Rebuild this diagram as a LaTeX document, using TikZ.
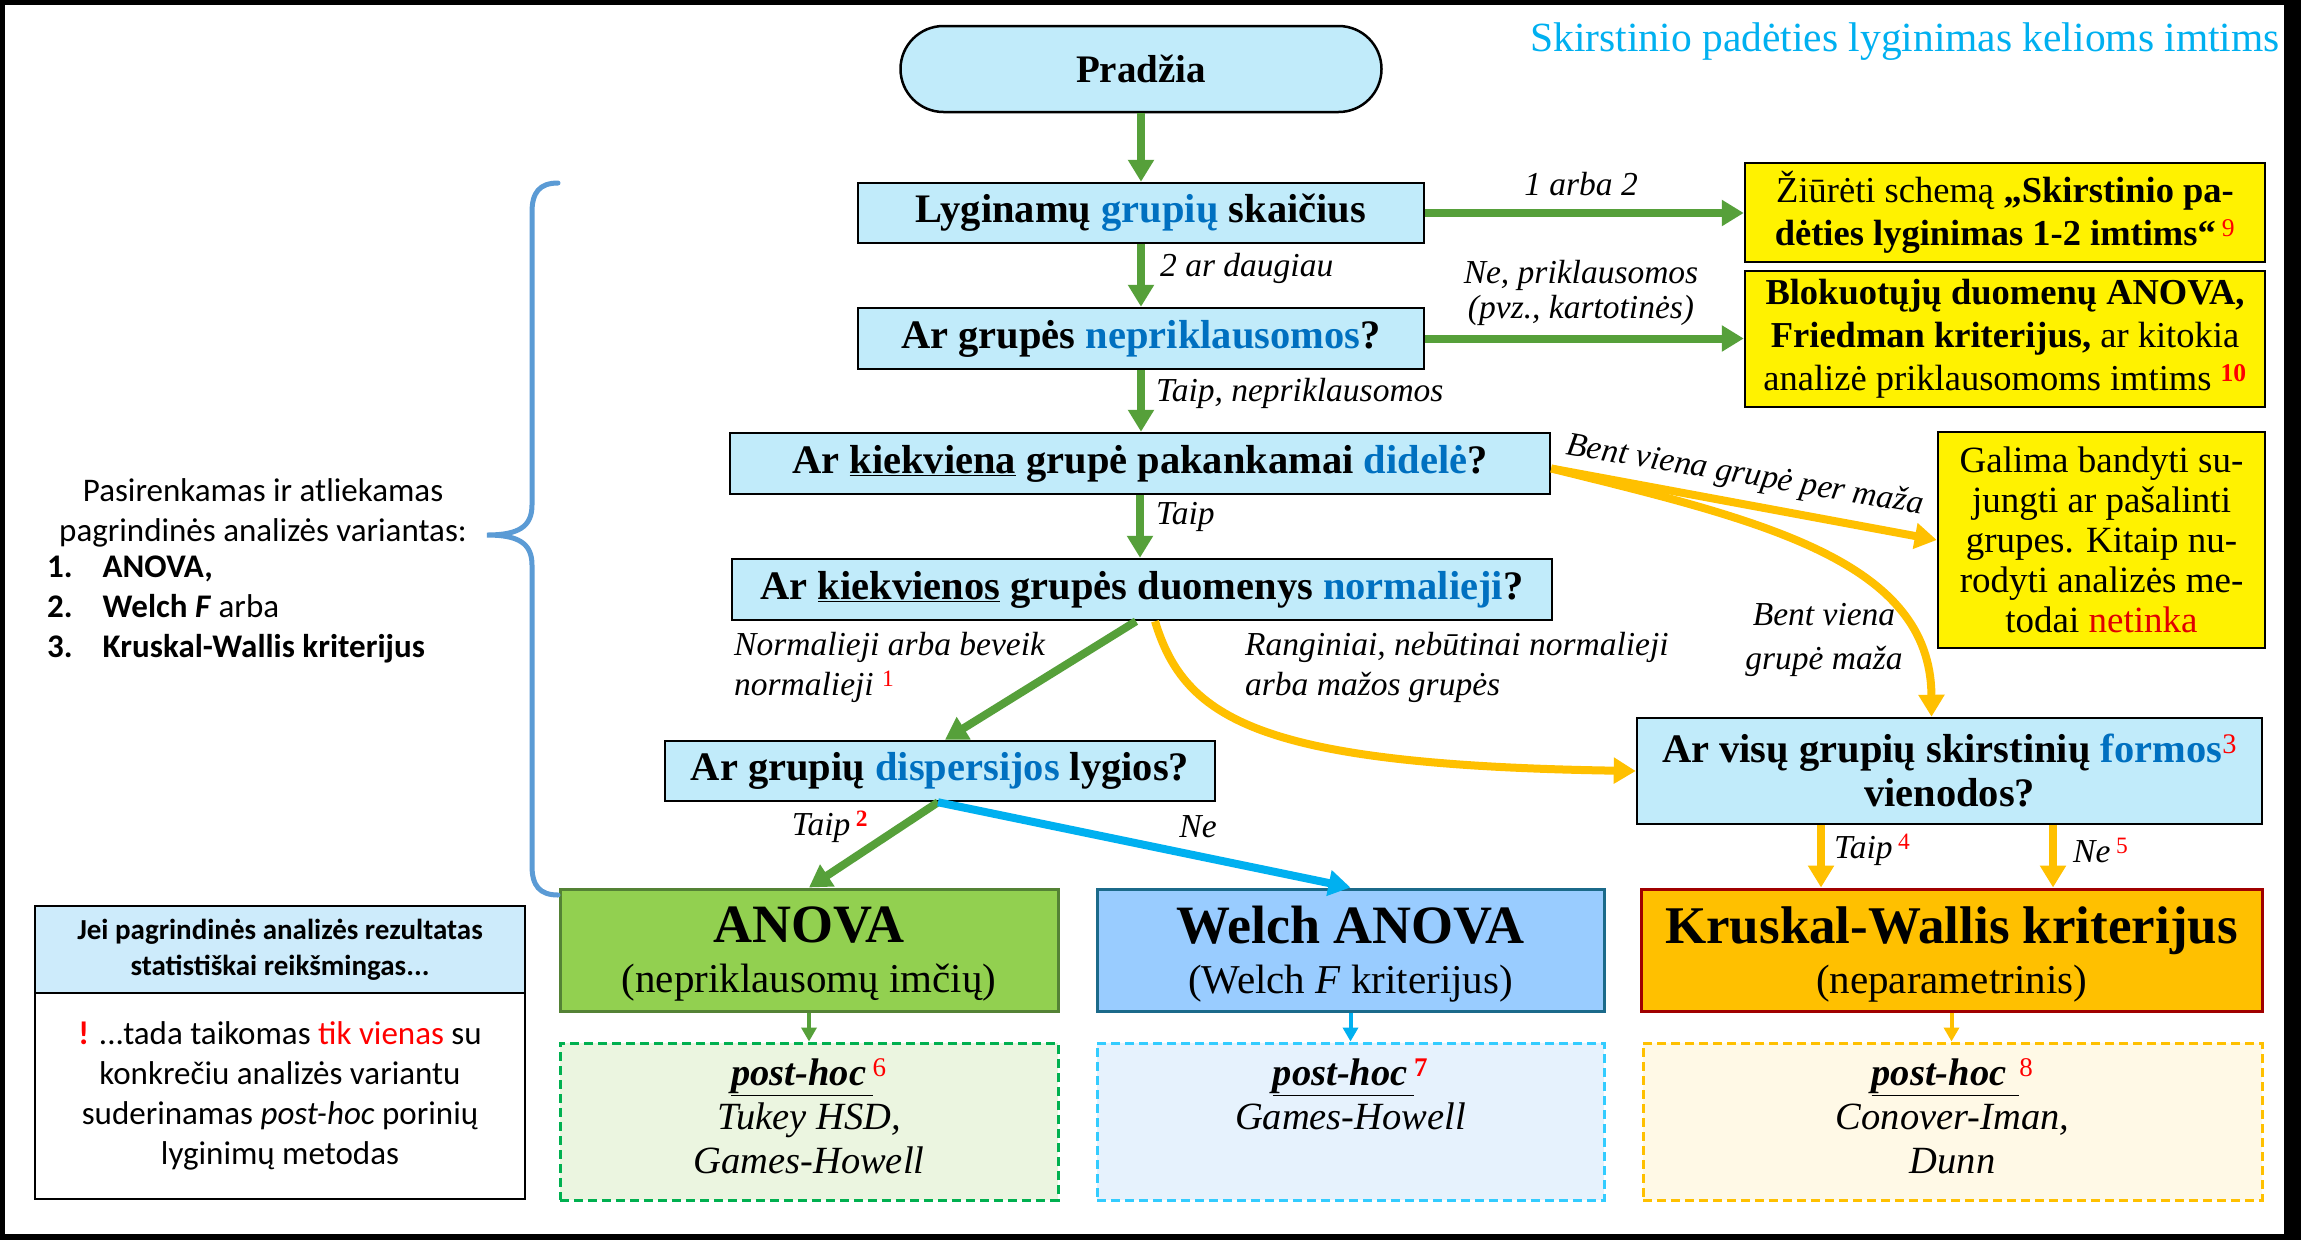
\documentclass[tikz,border=0pt]{standalone}
\usepackage{fontspec}
\setmainfont{Liberation Serif}
\newfontfamily\carl{Carlito}
\usetikzlibrary{arrows.meta,calc}
\definecolor{qfill}{HTML}{C1EBFA}
\definecolor{tblue}{HTML}{0070C0}
\definecolor{ttl}{HTML}{00B0F0}
\definecolor{agreen}{HTML}{56A03A}
\definecolor{ayellow}{HTML}{FFC000}
\definecolor{acyan}{HTML}{00B0F0}
\definecolor{supred}{HTML}{FF0000}
\definecolor{netred}{HTML}{E00000}
\definecolor{anovafill}{HTML}{92D050}
\definecolor{anovadraw}{HTML}{548235}
\definecolor{welchfill}{HTML}{99CCFF}
\definecolor{welchdraw}{HTML}{1B6A8A}
\definecolor{kwfill}{HTML}{FFC000}
\definecolor{kwdraw}{HTML}{A00000}
\definecolor{phgfill}{HTML}{EBF5E0}
\definecolor{phgdraw}{HTML}{00B050}
\definecolor{phbfill}{HTML}{E6F2FD}
\definecolor{phbdraw}{HTML}{33CCFF}
\definecolor{phyfill}{HTML}{FFF9E6}
\definecolor{phydraw}{HTML}{FFC000}
\definecolor{bracecol}{HTML}{5B9BD5}
\definecolor{notefill}{HTML}{CDEBFB}
\newcommand{\rsup}[1]{\textsuperscript{\normalfont\textcolor{supred}{#1}}}
\newcommand{\rsupb}[1]{\textsuperscript{\normalfont\bfseries\textcolor{supred}{#1}}}
\newcommand{\nodepth}[1]{\raisebox{0pt}[\height][0pt]{#1}}
\newcommand{\deepline}{\rule[-10pt]{0pt}{10pt}}
\begin{document}
\begin{tikzpicture}[x=1pt,y=-1pt,
 qbox/.style={draw=black, line width=2.5pt, fill=qfill, inner sep=0pt, align=center, font=\fontsize{40.5}{44}\selectfont\bfseries},
 ybox/.style={draw=black, line width=2.5pt, fill=yellow, inner sep=0pt, align=center, font=\fontsize{36.5}{43}\selectfont},
 lbl/.style={inner sep=0pt, font=\fontsize{33.5}{40}\selectfont\itshape},
 bigarrow/.style={line width=8pt, -{Triangle[length=22pt,width=25pt]}},
 smallarrow/.style={line width=4pt, -{Triangle[length=14pt,width=15pt]}},
 resbox/.style={line width=3pt, inner sep=0pt, align=center, minimum height=122pt, font=\fontsize{41}{50}\selectfont},
 phbox/.style={line width=3pt, dash pattern=on 9pt off 5pt, inner sep=0pt, align=center, minimum height=157pt, font=\fontsize{38.5}{44}\selectfont\itshape},
]
% frame
\fill[black] (0,0) rectangle (2301,1240);
\fill[white] (5,5) rectangle (2284,1234);

% title
\node[anchor=east, inner sep=0pt, text=ttl, font=\fontsize{41.5}{48}\selectfont] (title) at (2280,42) {Skirstinio padėties lyginimas kelioms imtims};

% main flow
\node[draw=black, line width=2.5pt, fill=qfill, rounded corners=43pt, minimum width=481pt, minimum height=86pt, inner sep=0pt, font=\fontsize{39}{44}\selectfont\bfseries] (start) at (1141,69) {Pradžia};
\node[qbox, minimum width=566pt, minimum height=60pt] (q1) at (1141,213) {Lyginamų \textcolor{tblue}{grupių} skaičius};
\node[qbox, minimum width=566pt, minimum height=61pt] (q2) at (1141,338.5) {Ar grupės \textcolor{tblue}{nepriklausomos}?};
\node[qbox, minimum width=820pt, minimum height=61pt] (q3) at (1140,463.5) {Ar \underline{kiekviena} grupė pakankamai \textcolor{tblue}{didelė}?};
\node[qbox, minimum width=820pt, minimum height=61pt] (q4) at (1142,589.5) {Ar \underline{kiekvienos} grupės duomenys \textcolor{tblue}{normalieji}?};
\node[qbox, minimum width=550pt, minimum height=60pt] (q5) at (940,771) {Ar grupių \textcolor{tblue}{dispersijos} lygios?};
\node[qbox, minimum width=625pt, minimum height=106pt] (q6) at (1949.5,771) {Ar visų grupių skirstinių \textcolor{tblue}{formos}\rsup{3}\\vienodos?};

% yellow boxes
\node[ybox, minimum width=520pt, minimum height=99pt] (y1) at (2005,212.5) {Žiūrėti schemą \textbf{„Skirstinio pa-}\\\textbf{dėties lyginimas 1-2 imtims“}\,\rsup{9}};
\node[ybox, minimum width=520pt, minimum height=136pt] (y2) at (2005,339) {\textbf{Blokuotųjų duomenų ANOVA,}\\\textbf{Friedman kriterijus,} ar kitokia\\analizė priklausomoms imtims \rsupb{10}};
\node[ybox, minimum width=327pt, minimum height=216pt, font=\fontsize{37}{40}\selectfont] (y3) at (2101.5,540) {Galima bandyti su-\\jungti ar pašalinti\\grupes. Kitaip nu-\\rodyti analizės me-\\todai \textcolor{netred}{netinka}};

% result boxes
\node[resbox, draw=anovadraw, fill=anovafill, minimum width=498pt] (anova) at (809,950) {{\fontsize{54}{50}\selectfont\bfseries ANOVA}\\\nodepth{(nepriklausomų imčių)}};
\node[resbox, draw=welchdraw, fill=welchfill, minimum width=507pt] (welch) at (1350.5,950) {{\fontsize{54}{50}\selectfont\bfseries Welch ANOVA}\\\nodepth{(Welch \textit{F} kriterijus)}};
\node[resbox, draw=kwdraw, fill=kwfill, minimum width=621pt] (kw) at (1951.5,950) {{\fontsize{53}{50}\selectfont\bfseries Kruskal-Wallis kriterijus}\\\nodepth{(neparametrinis)}};

% post-hoc boxes
\node[phbox, draw=phgdraw, fill=phgfill, minimum width=498pt] (ph1) at (809,1121.5) {\underline{\textbf{post-hoc}\,}\rsup{6}\\Tukey HSD,\\Games-Howell\deepline};
\node[phbox, draw=phbdraw, fill=phbfill, minimum width=507pt] (ph2) at (1350.5,1121.5) {\underline{\textbf{post-hoc}\,}\rsupb{7}\\Games-Howell\\\phantom{Dunn}\deepline};
\node[phbox, draw=phydraw, fill=phyfill, minimum width=619pt] (ph3) at (1952.5,1121.5) {\underline{\textbf{post-hoc}\,\,}\rsup{8}\\Conover-Iman,\\Dunn\deepline};

% left notes
\node[font=\carl\fontsize{33}{40}\selectfont, align=center, inner sep=0pt] (intro) at (263,512.5) {Pasirenkamas ir atliekamas\\pagrindinės analizės variantas:};
\node[font=\carl\fontsize{33}{40}\selectfont, inner sep=0pt, anchor=west] (list) at (47,609) {\begin{tabular}{@{}l@{\hspace{30pt}}l@{}}\textbf{1.} & \textbf{ANOVA,}\\ \textbf{2.} & \textbf{Welch \textit{F}} arba\\ \textbf{3.} & \textbf{Kruskal-Wallis kriterijus}\end{tabular}};
\node[draw=black, line width=2.5pt, fill=notefill, minimum width=490pt, minimum height=87pt, inner sep=0pt, align=center, font=\carl\bfseries\fontsize{29}{36}\selectfont] (note1) at (280,949.5) {Jei pagrindinės analizės rezultatas\\statistiškai reikšmingas...};
\node[draw=black, line width=2.5pt, fill=white, minimum width=490pt, minimum height=206pt, inner sep=0pt, align=center, font=\carl\fontsize{33}{40}\selectfont] (note2) at (280,1096) {\textcolor{supred}{\textbf{!}} ...tada taikomas \textcolor{supred}{tik vienas} su\\konkrečiu analizės variantu\\suderinamas \textit{post-hoc} porinių\\lyginimų metodas};

% brace
\draw[bracecol, line width=5pt, line cap=round] (558,183) .. controls (540,183) and (532,192) .. (532,212) -- (532,505) .. controls (532,527) and (518,535) .. (487,535) .. controls (518,535) and (532,543) .. (532,565) -- (532,866) .. controls (532,886) and (540,895) .. (558,895);

% connectors
\draw[bigarrow, agreen] (start) -- (q1);
\draw[bigarrow, agreen] (q1.east) -- (q1.east -| y1.west);
\node[lbl] (l1) at (1581,184) {1 arba 2};
\draw[bigarrow, agreen] (q1) -- (q2);
\node[lbl, anchor=west] (l2) at (1160,268) {2 ar daugiau};
\draw[bigarrow, agreen] (q2.east) -- (q2.east -| y2.west);
\node[lbl, align=center, font=\fontsize{33.5}{35}\selectfont\itshape] (l3) at (1581,293) {Ne, priklausomos\\(pvz., kartotinės)};
\draw[bigarrow, agreen] (q2.south) -- (q2.south |- q3.north);
\node[lbl, anchor=west] (l4) at (1156,393) {Taip, nepriklausomos};
\draw[bigarrow, agreen] (q3.south) -- (q3.south |- q4.north);
\node[lbl, anchor=west] (l5) at (1156,517) {Taip};

\coordinate (q3r) at ($(q3.east)+(0,5)$);
\draw[bigarrow, ayellow] (q3r) -- (y3.west);
\draw[bigarrow, ayellow] (q3r) .. controls (1760,520) and (1931,560) .. ($(q6.north)+(-18,0)$);
\node[lbl, rotate=-9.5] (l6) at (1745,476) {Bent viena grupė per maža};
\node[lbl, align=center, font=\fontsize{33.5}{44}\selectfont\itshape] (l7) at (1824,640) {Bent viena\\grupė maža};

\draw[bigarrow, agreen] ($(q4.south)+(-6,0)$) -- ($(q5.north)+(5,0)$);
\draw[bigarrow, ayellow] ($(q4.south)+(13,0)$) .. controls (1185,720) and (1260,765) .. (q6.west);
\node[lbl, anchor=west, align=left] (l8) at (734,667) {Normalieji arba beveik\\normalieji \rsup{1}};
\node[lbl, anchor=west, align=left] (l9) at (1245,667) {Ranginiai, nebūtinai normalieji\\arba mažos grupės};

\coordinate (q5b) at ($(q5.south)+(-2,0)$);
\draw[bigarrow, agreen] (q5b) -- (anova.north);
\draw[bigarrow, acyan] (q5b) -- (welch.north);
\node[lbl] (l10) at (830,827) {Taip\,\rsupb{2}};
\node[lbl] (l11) at (1198,827) {Ne};

\draw[bigarrow, ayellow] (1821,0 |- q6.south) -- (1821,0 |- kw.north);
\draw[bigarrow, ayellow] (2053,0 |- q6.south) -- (2053,0 |- kw.north);
\node[lbl, anchor=west] (l12) at (1834,850) {Taip\,\rsup{4}};
\node[lbl, anchor=west] (l13) at (2073,850) {Ne\,\rsup{5}};

\draw[smallarrow, agreen] (anova) -- (ph1);
\draw[smallarrow, acyan] (welch) -- (ph2);
\draw[smallarrow, ayellow] (kw.south) -- (kw.south |- ph3.north);
\end{tikzpicture}
\end{document}
